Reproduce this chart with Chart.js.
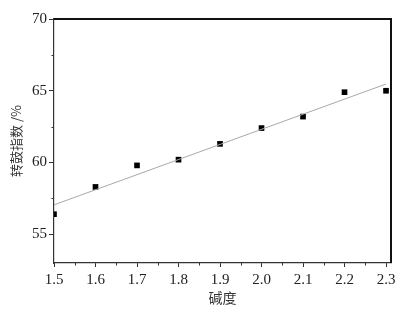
<!DOCTYPE html>
<html lang="zh">
<head>
    <meta charset="UTF-8">
    <title>碱度与转鼓指数</title>
    <script src="https://cdn.jsdelivr.net/npm/chart.js"></script>
    <style>
        body { margin: 0; padding: 0; background: #ffffff; }
        #wrap { width: 404px; height: 311px; }
    </style>
</head>
<body>
    <div id="wrap"><canvas id="chart" width="404" height="311"></canvas></div>
    <script>
        // datos
        const basicity = [1.5, 1.6, 1.7, 1.8, 1.9, 2.0, 2.1, 2.2, 2.3];
        const drumIndex = [56.4, 58.3, 59.8, 60.2, 61.3, 62.4, 63.2, 64.9, 65.0];
        const fitX = [1.5, 2.3];
        const fitY = [57.05, 65.47];
        const xTicks = [1.5, 1.6, 1.7, 1.8, 1.9, 2.0, 2.1, 2.2, 2.3];
        const yTicks = [55, 60, 65, 70];

        const tickFont = { family: 'Liberation Serif', size: 15 };

        // marco superior/derecho y marcas menores
        const framePlugin = {
            id: 'frame',
            afterDraw(chart) {
                const ctx = chart.ctx;
                const a = chart.chartArea;
                const xs = chart.scales.x, ys = chart.scales.y;
                ctx.save();
                ctx.strokeStyle = '#111';
                ctx.lineWidth = 2;
                ctx.beginPath();
                ctx.moveTo(a.left, a.top);
                ctx.lineTo(a.right, a.top);
                ctx.lineTo(a.right, a.bottom);
                ctx.stroke();

                ctx.lineWidth = 1;
                ctx.strokeStyle = '#333';
                ctx.beginPath();
                for (let i = 0; i < xTicks.length - 1; i++) {
                    const px = Math.round(xs.getPixelForValue((xTicks[i] + xTicks[i + 1]) / 2)) + 0.5;
                    ctx.moveTo(px, a.bottom);
                    ctx.lineTo(px, a.bottom + 2.5);
                }
                for (let i = 0; i < yTicks.length - 1; i++) {
                    const py = Math.round(ys.getPixelForValue((yTicks[i] + yTicks[i + 1]) / 2)) + 0.5;
                    ctx.moveTo(a.left, py);
                    ctx.lineTo(a.left - 2.5, py);
                }
                ctx.stroke();
                ctx.restore();
            }
        };

        new Chart(document.getElementById('chart'), {
            type: 'scatter',
            data: {
                datasets: [
                    {
                        label: '拟合',
                        data: fitX.map((x, i) => ({ x: x, y: fitY[i] })),
                        showLine: true,
                        borderColor: '#a8a8a8',
                        borderWidth: 1,
                        pointRadius: 0
                    },
                    {
                        label: '转鼓指数',
                        data: basicity.map((x, i) => ({ x: x, y: drumIndex[i] })),
                        pointStyle: 'rect',
                        pointRadius: 4,
                        backgroundColor: '#000',
                        borderColor: '#000',
                        borderWidth: 0
                    }
                ]
            },
            options: {
                responsive: false,
                animation: false,
                layout: { padding: { top: 19, right: 13, left: 0, bottom: 0 } },
                plugins: { legend: { display: false }, tooltip: { enabled: false } },
                scales: {
                    x: {
                        type: 'linear',
                        min: 1.5,
                        max: 2.312,
                        afterBuildTicks: s => { s.ticks = xTicks.map(v => ({ value: v })); },
                        afterFit: s => { s.height = 48; },
                        grid: { drawOnChartArea: false, drawTicks: true, tickLength: 4, color: '#333' },
                        border: { color: '#333', width: 1.2 },
                        ticks: {
                            font: tickFont, color: '#222', padding: 4, maxRotation: 0,
                            callback: v => v.toFixed(1)
                        },
                        title: {
                            display: true, text: '碱度', color: '#333',
                            font: { family: 'Noto Sans CJK SC', size: 14 },
                            padding: { top: 0, bottom: 5 }
                        }
                    },
                    y: {
                        min: 53,
                        max: 70,
                        afterBuildTicks: s => { s.ticks = yTicks.map(v => ({ value: v })); },
                        afterFit: s => { s.width = 54; },
                        grid: { drawOnChartArea: false, drawTicks: true, tickLength: 5, color: '#333' },
                        border: { color: '#333', width: 1.2 },
                        ticks: { font: tickFont, color: '#222', padding: 2 },
                        title: {
                            display: true, text: '转鼓指数 /%', color: '#333',
                            font: { family: 'Noto Sans CJK SC', size: 13 },
                            padding: { top: 8, bottom: 0 }
                        }
                    }
                }
            },
            plugins: [framePlugin]
        });
    </script>
</body>
</html>
